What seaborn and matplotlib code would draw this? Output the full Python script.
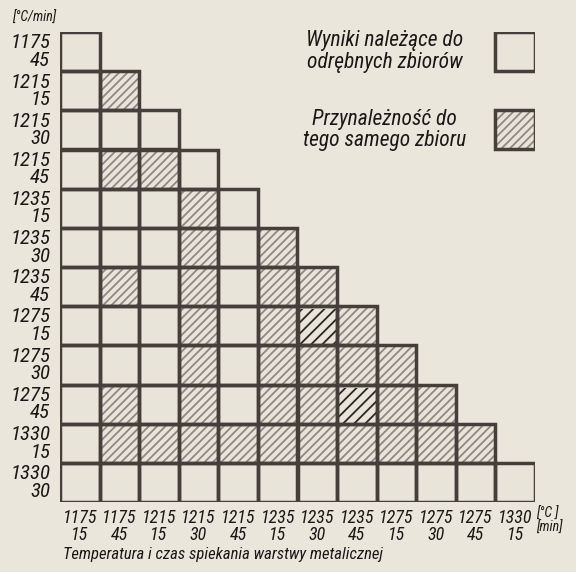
import numpy as np
import seaborn as sns
import matplotlib
matplotlib.use("Agg")
import matplotlib.pyplot as plt
from matplotlib.colors import ListedColormap
from matplotlib.patches import Rectangle
from matplotlib import font_manager

# Sintering settings (temperature °C / time min) along both axes
row_temps = [1175, 1215, 1215, 1215, 1235, 1235, 1235, 1275, 1275, 1275, 1330, 1330]
row_times = [45, 15, 30, 45, 15, 30, 45, 15, 30, 45, 15, 30]
col_temps = [1175, 1175, 1215, 1215, 1215, 1235, 1235, 1235, 1275, 1275, 1275, 1330]
col_times = [15, 45, 15, 30, 45, 15, 30, 45, 15, 30, 45, 15]

# 1 = both settings belong to the same cluster, 0 = separate clusters
# row i is compared with columns 0..i
same_cluster = [
    [0],
    [0, 1],
    [0, 0, 0],
    [0, 1, 1, 0],
    [0, 0, 0, 1, 0],
    [0, 0, 0, 1, 0, 1],
    [0, 1, 0, 1, 0, 1, 1],
    [0, 0, 0, 1, 0, 1, 1, 1],
    [0, 0, 0, 1, 0, 1, 1, 1, 1],
    [0, 1, 0, 1, 0, 1, 1, 1, 1, 1],
    [0, 1, 1, 1, 1, 1, 1, 1, 1, 1, 1],
    [0, 0, 0, 0, 0, 0, 0, 0, 0, 0, 0, 0],
]
# cells whose hatching was retraced with a darker pen
retraced = [(7, 6), (9, 7)]

legend_labels = ["Wyniki należące do\nodrębnych zbiorów",
                 "Przynależność do\ntego samego zbioru"]
x_title = "Temperatura i czas spiekania warstwy metalicznej"
unit_label = "[°C/min]"

# colours
paper = "#ebe6db"
cell_bg = "#e9e4d9"
ink = "#453e3a"
hatch_ink = "#8e8882"
dark_ink = "#2a2624"
text_ink = "#1a1817"

sns.set_theme(style="white")
available = {f.name for f in font_manager.fontManager.ttflist}
narrow = [f for f in ["Liberation Sans Narrow", "Roboto Condensed", "Roboto", "DejaVu Sans"]
          if f in available]
family = [narrow[0], "DejaVu Sans"]
plt.rcParams["font.family"] = family
plt.rcParams["hatch.linewidth"] = 1.3
font_kw = dict(family=family, style="italic", color=text_ink)

n_rows, n_cols = len(row_temps), len(col_temps)
grid = np.full((n_rows, n_cols), np.nan)
for i, row in enumerate(same_cluster):
    grid[i, :len(row)] = row
mask = np.isnan(grid)

fig = plt.figure(figsize=(5.76, 5.72), dpi=100, facecolor=paper)
ax = fig.add_axes([60 / 576, 70 / 572, 475 / 576, 470 / 572])
ax.set_facecolor(paper)

sns.heatmap(grid, mask=mask, cmap=ListedColormap([cell_bg, cell_bg]), vmin=0, vmax=1,
            cbar=False, linewidths=0, square=False, ax=ax,
            xticklabels=[f"{t}\n{m}" for t, m in zip(col_temps, col_times)],
            yticklabels=[f"{t}\n{m}" for t, m in zip(row_temps, row_times)])

border_kw = dict(fill=False, edgecolor=ink, linewidth=2.5, zorder=4)

# hatching for pairs in the same cluster, then cell borders on top
for i, row in enumerate(same_cluster):
    for j, v in enumerate(row):
        if v and (i, j) not in retraced:
            ax.add_patch(Rectangle((j, i), 1, 1, fill=False, hatch="////",
                                   edgecolor=hatch_ink, linewidth=0, zorder=2))
for i, j in retraced:
    ax.add_patch(Rectangle((j, i + 0.08), 1, 0.92, fill=False, hatch="///",
                           edgecolor=dark_ink, linewidth=0, zorder=3))
for i, row in enumerate(same_cluster):
    for j, _ in enumerate(row):
        ax.add_patch(Rectangle((j, i), 1, 1, **border_kw))

# legend drawn as two sample cells in the empty upper-right area
legend_rows = [0, 2]
for k, (r, label) in enumerate(zip(legend_rows, legend_labels)):
    ax.add_patch(Rectangle((n_cols - 1, r), 1, 1, facecolor=cell_bg,
                           hatch="////" if k == 1 else None,
                           edgecolor=hatch_ink, linewidth=0, zorder=2))
    ax.add_patch(Rectangle((n_cols - 1, r), 1, 1, **border_kw))
    ax.text(8.2, r + 0.5, label, ha="center", va="center", multialignment="center",
            fontsize=15.5, linespacing=1.05, **font_kw)

ax.set_xlim(0, n_cols)
ax.set_ylim(n_rows, 0)
for s in ax.spines.values():
    s.set_visible(False)
ax.tick_params(axis="both", length=0)
ax.tick_params(axis="x", pad=5)
ax.tick_params(axis="y", pad=7)
for lab in ax.get_xticklabels():
    lab.set_rotation(0)
    lab.set_ha("center")
    lab.set_multialignment("center")
    lab.set_fontsize(13)
    lab.set_linespacing(0.95)
    lab.set_color(text_ink)
    lab.set_fontstyle("italic")
for lab in ax.get_yticklabels():
    lab.set_rotation(0)
    lab.set_ha("right")
    lab.set_va("center")
    lab.set_multialignment("right")
    lab.set_fontsize(15)
    lab.set_linespacing(0.9)
    lab.set_color(text_ink)
    lab.set_fontstyle("italic")

fig.text(12 / 576, 1 - 18 / 572, unit_label, ha="left", va="center", fontsize=10, **font_kw)
fig.text(536 / 576, 1 - 521 / 572, "[°C ]\n[min]", ha="left", va="center",
         fontsize=10, linespacing=1.05, **font_kw)
fig.text(63 / 576, 1 - 554 / 572, x_title, ha="left", va="center", fontsize=12, **font_kw)

fig.savefig("out.png", dpi=100, facecolor=paper)
